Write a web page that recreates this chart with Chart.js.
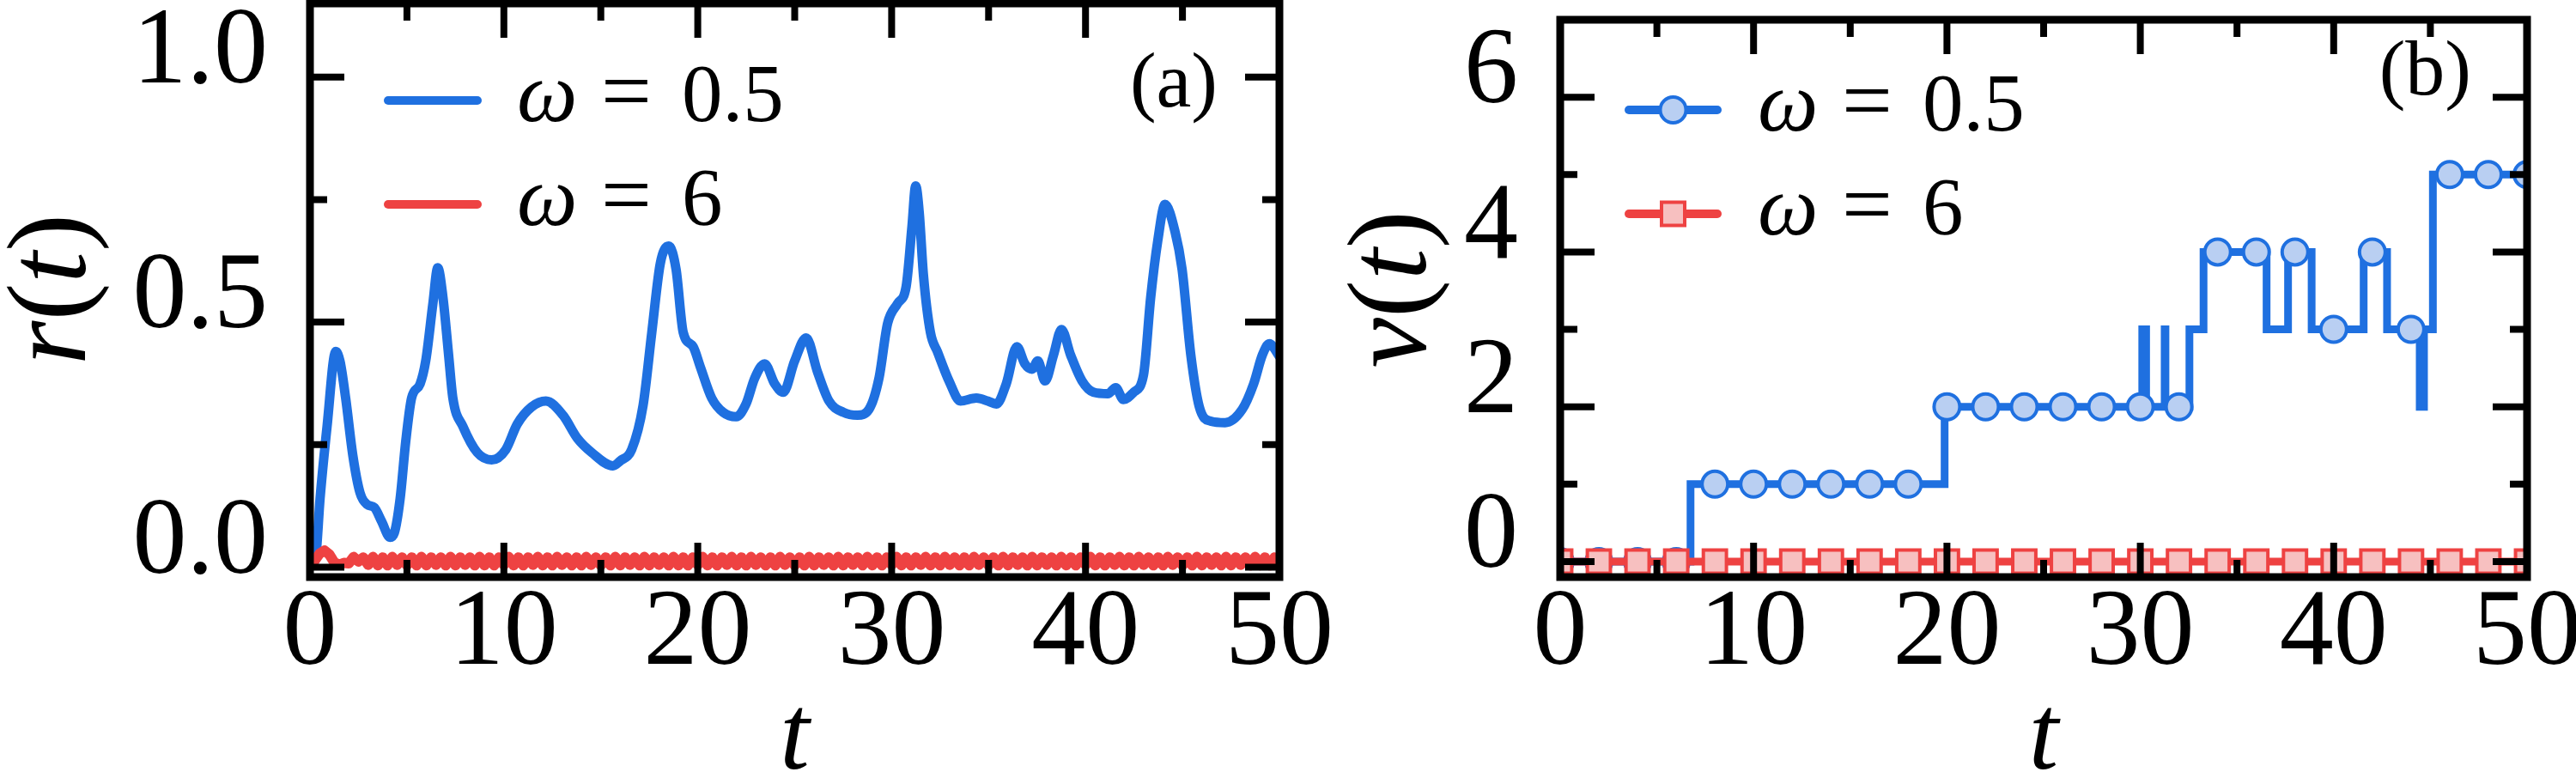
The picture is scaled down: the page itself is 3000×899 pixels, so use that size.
<!DOCTYPE html>
<html>
<head>
<meta charset="utf-8">
<script src="https://cdn.jsdelivr.net/npm/chart.js@4.4.0/dist/chart.umd.min.js"></script>
<style>
  html, body { margin: 0; padding: 0; background: #fff; overflow: hidden; }
  #wrap { position: relative; width: 3000px; height: 899px; }
  canvas { position: absolute; top: 0; }
  #chartA { left: 0; }
  #chartB { left: 1500px; }
</style>
</head>
<body>
<div id="wrap">
  <canvas id="chartA" width="1600" height="899"></canvas>
  <canvas id="chartB" width="1500" height="899"></canvas>
</div>
<script>
// legend values
const omegaLabels = ["0.5", "6"];

// axis ticks
const xTicks = [0, 10, 20, 30, 40, 50];
const xMinor = [5, 15, 25, 35, 45];
const yTicksA = [0, 0.5, 1.0];
const yMinorA = [0.25, 0.75];
const yTicksB = [0, 2, 4, 6];
const yMinorB = [1, 3, 5];

// (a) r(t), omega = 0.5
const tBlueA = [0, 0.30, 0.52, 0.88, 1.33, 1.55, 1.84, 2.21, 2.58, 2.95,
  3.32, 3.69, 4.13, 4.35, 4.65, 4.94, 5.24, 5.68, 5.97, 6.34,
  6.59, 6.86, 7.15, 7.37, 7.89, 8.63, 9.37, 10.10, 10.69, 11.43,
  12.17, 13.05, 13.79, 14.53, 15.63, 16.00, 16.59, 17.18, 17.63, 18.07,
  18.51, 18.88, 19.25, 19.76, 20.13, 20.72, 21.31, 21.98, 22.49, 22.94,
  23.45, 23.97, 24.41, 25.00, 25.59, 26.18, 26.77, 27.51, 28.24, 28.83,
  29.35, 29.79, 30.31, 30.75, 31.05, 31.24, 31.42, 31.64, 32.00, 32.37,
  32.96, 33.55, 34.37, 34.96, 35.40, 35.91, 36.46, 36.87, 37.24, 37.54,
  37.91, 38.35, 38.76, 39.23, 39.82, 40.41, 41.15, 41.56, 41.96, 42.48,
  42.99, 43.36, 43.73, 44.10, 44.62, 44.98, 45.43, 45.87, 46.46, 47.20,
  48.08, 48.67, 49.12, 49.48, 50.00];
const rBlueA = [0.000, 0.023, 0.140, 0.287, 0.440, 0.420, 0.345, 0.228, 0.152, 0.128,
  0.122, 0.094, 0.061, 0.070, 0.140, 0.257, 0.345, 0.374, 0.421, 0.538,
  0.611, 0.550, 0.433, 0.345, 0.287, 0.234, 0.219, 0.240, 0.292, 0.327,
  0.339, 0.310, 0.263, 0.234, 0.207, 0.217, 0.240, 0.330, 0.479, 0.620,
  0.655, 0.608, 0.479, 0.450, 0.409, 0.345, 0.316, 0.307, 0.333, 0.386,
  0.415, 0.374, 0.357, 0.421, 0.468, 0.398, 0.339, 0.316, 0.310, 0.322,
  0.386, 0.497, 0.538, 0.573, 0.696, 0.778, 0.725, 0.596, 0.479, 0.439,
  0.380, 0.339, 0.345, 0.339, 0.333, 0.374, 0.450, 0.415, 0.404, 0.421,
  0.380, 0.433, 0.485, 0.433, 0.380, 0.357, 0.354, 0.366, 0.342, 0.357,
  0.392, 0.550, 0.667, 0.740, 0.684, 0.608, 0.433, 0.327, 0.298, 0.295,
  0.322, 0.374, 0.433, 0.456, 0.430];

// (a) r(t), omega = 6, sampled every 0.25 in t
const redStepA = 0.25;
const rRedA = [
  0.000, 0.014, 0.028, 0.034, 0.026, 0.010, 0.005, 0.009, 0.008, 0.021,
  0.012, 0.020, 0.005, 0.021, 0.004, 0.020, 0.004, 0.021, 0.005, 0.020,
  0.004, 0.020, 0.004, 0.021, 0.004, 0.020, 0.005, 0.020, 0.004, 0.021,
  0.004, 0.020, 0.005, 0.020, 0.004, 0.021, 0.004, 0.020, 0.004, 0.020,
  0.005, 0.021, 0.004, 0.020, 0.004, 0.020, 0.005, 0.021, 0.004, 0.020,
  0.004, 0.021, 0.005, 0.020, 0.004, 0.020, 0.004, 0.021, 0.005, 0.020,
  0.004, 0.020, 0.004, 0.021, 0.004, 0.020, 0.005, 0.020, 0.004, 0.021,
  0.004, 0.020, 0.005, 0.020, 0.004, 0.021, 0.004, 0.020, 0.004, 0.020,
  0.005, 0.021, 0.004, 0.020, 0.004, 0.020, 0.005, 0.021, 0.004, 0.020,
  0.004, 0.021, 0.005, 0.020, 0.004, 0.020, 0.004, 0.021, 0.005, 0.020,
  0.004, 0.020, 0.004, 0.021, 0.004, 0.020, 0.005, 0.020, 0.004, 0.021,
  0.004, 0.020, 0.005, 0.020, 0.004, 0.021, 0.004, 0.020, 0.004, 0.020,
  0.005, 0.021, 0.004, 0.020, 0.004, 0.020, 0.005, 0.021, 0.004, 0.020,
  0.004, 0.021, 0.005, 0.020, 0.004, 0.020, 0.004, 0.021, 0.005, 0.020,
  0.004, 0.020, 0.004, 0.021, 0.004, 0.020, 0.005, 0.020, 0.004, 0.021,
  0.004, 0.020, 0.005, 0.020, 0.004, 0.021, 0.004, 0.020, 0.004, 0.020,
  0.005, 0.021, 0.004, 0.020, 0.004, 0.020, 0.005, 0.021, 0.004, 0.020,
  0.004, 0.021, 0.005, 0.020, 0.004, 0.020, 0.004, 0.021, 0.005, 0.020,
  0.004, 0.020, 0.004, 0.021, 0.004, 0.020, 0.005, 0.020, 0.004, 0.021,
  0.004, 0.020, 0.005, 0.020, 0.004, 0.021, 0.004, 0.020, 0.004, 0.020,
  0.005];

// (b) nu(t), omega = 0.5: jump times and levels
const tStepB = [0, 6.74, 19.88, 30.10, 30.30, 31.26, 31.30, 32.54, 33.27,
  36.53, 37.64, 38.86, 41.55, 42.76, 44.45, 44.67, 45.13, 50];
const nuStepB = [0, 1, 2, 3, 2, 3, 2, 3, 4, 3, 4, 3, 4, 3, 2, 3, 5, 5];

// (b) marker positions
const tMarkB = [0, 2, 4, 6, 8, 10, 12, 14, 16, 18, 20, 22, 24, 26, 28, 30, 32,
  34, 36, 38, 40, 42, 44, 46, 48, 50];
const nuMarkBlueB = [0, 0, 0, 0, 1, 1, 1, 1, 1, 1, 2, 2, 2, 2, 2, 2, 2,
  4, 4, 4, 3, 4, 3, 5, 5, 5];
const nuMarkRedB = [0, 0, 0, 0, 0, 0, 0, 0, 0, 0, 0, 0, 0, 0, 0, 0, 0,
  0, 0, 0, 0, 0, 0, 0, 0, 0];

const FONT = '"Liberation Serif", "Times New Roman", serif';
const BLUE = "#1f70e0";
const BLUE_FILL = "#b9cff2";
const RED = "#ee4242";
const RED_FILL = "#f7c0c0";

function fontOf(size, italic) {
  return (italic ? "italic " : "") + size + "px " + FONT;
}

function drawParts(ctx, parts, x, y, size, center) {
  let w = 0;
  parts.forEach(p => { ctx.font = fontOf(size, p[1]); w += ctx.measureText(p[0]).width; });
  let cx = center ? x - w / 2 : x;
  ctx.textAlign = "left";
  parts.forEach(p => {
    ctx.font = fontOf(size, p[1]);
    ctx.fillText(p[0], cx, y);
    cx += ctx.measureText(p[0]).width;
  });
}

function drawMarker(ctx, kind, x, y, color, fill) {
  ctx.save();
  ctx.lineWidth = 4;
  ctx.strokeStyle = color;
  ctx.fillStyle = fill;
  ctx.beginPath();
  if (kind === "circle") ctx.arc(x, y, 15, 0, Math.PI * 2);
  else ctx.rect(x - 13.5, y - 13.5, 27, 27);
  ctx.fill();
  ctx.stroke();
  ctx.restore();
}

// frame, inward ticks, legend, labels
const decorPlugin = {
  id: "decor",
  afterDraw(chart, args, o) {
    const { ctx, chartArea: a, scales: { x, y } } = chart;
    ctx.save();
    ctx.strokeStyle = "#000";
    ctx.lineCap = "butt";
    ctx.lineWidth = 8;
    const xt = (vals, len) => vals.forEach(v => {
      const px = x.getPixelForValue(v);
      ctx.beginPath();
      ctx.moveTo(px, a.bottom); ctx.lineTo(px, a.bottom - len);
      ctx.moveTo(px, a.top); ctx.lineTo(px, a.top + len);
      ctx.stroke();
    });
    const yt = (vals, len) => vals.forEach(v => {
      const py = y.getPixelForValue(v);
      ctx.beginPath();
      ctx.moveTo(a.left, py); ctx.lineTo(a.left + len, py);
      ctx.moveTo(a.right, py); ctx.lineTo(a.right - len, py);
      ctx.stroke();
    });
    xt(xTicks, 40); xt(xMinor, 20);
    yt(o.yMajor, 40); yt(o.yMinor, 20);
    ctx.lineWidth = 9;
    ctx.strokeRect(a.left, a.top, a.right - a.left, a.bottom - a.top);

    // legend
    o.legend.rows.forEach((ry, i) => {
      const e = o.legend.entries[i];
      ctx.strokeStyle = e.color;
      ctx.lineWidth = 10;
      ctx.lineCap = "round";
      ctx.beginPath();
      ctx.moveTo(o.legend.x0, ry);
      ctx.lineTo(o.legend.x1, ry);
      ctx.stroke();
      if (e.marker) drawMarker(ctx, e.marker, (o.legend.x0 + o.legend.x1) / 2, ry, e.color, e.fill);
      ctx.fillStyle = "#000";
      ctx.textBaseline = "alphabetic";
      const tx = o.legend.textX, by = ry + 24, s = o.legend.size;
      drawParts(ctx, [["ω", true]], tx, by, s * 1.05, false);
      drawParts(ctx, [["=", false]], tx + 98, by, s * 1.1, false);
      drawParts(ctx, [[e.label, false]], tx + 192, by, s, false);
    });

    // panel tag
    ctx.fillStyle = "#000";
    ctx.textAlign = "right";
    ctx.textBaseline = "alphabetic";
    ctx.font = fontOf(92, false);
    ctx.fillText(o.tag.text, o.tag.x, o.tag.y);

    // y axis title
    ctx.translate(o.ytitle.x, o.ytitle.y);
    ctx.rotate(-Math.PI / 2);
    ctx.textBaseline = "middle";
    drawParts(ctx, o.ytitle.parts, 0, 0, 132, true);
    ctx.restore();
  }
};

function axes(yMin, yMax, yTicks, yFmt, yWidth) {
  return {
    x: {
      type: "linear", min: 0, max: 50,
      grid: { display: false, drawTicks: false },
      border: { display: false },
      ticks: { font: { family: FONT, size: 126, lineHeight: 1 }, color: "#000", padding: 5,
        maxRotation: 0, autoSkip: false, callback: v => String(v) },
      afterBuildTicks: s => { s.ticks = xTicks.map(v => ({ value: v })); },
      afterFit: s => { s.height = 227; s.paddingLeft = 0; s.paddingRight = 0; },
      title: { display: true, text: "t", color: "#000",
        font: { family: FONT, size: 124, style: "italic", lineHeight: 0.5 },
        padding: { top: 0, bottom: 6 } }
    },
    y: {
      type: "linear", min: yMin, max: yMax,
      grid: { display: false, drawTicks: false },
      border: { display: false },
      ticks: { font: { family: FONT, size: 126, lineHeight: 1 }, color: "#000", padding: 49,
        labelOffset: -27, autoSkip: false, callback: yFmt },
      afterBuildTicks: s => { s.ticks = yTicks.map(v => ({ value: v })); },
      afterFit: s => { s.width = yWidth; s.paddingTop = 0; s.paddingBottom = 0; }
    }
  };
}

new Chart(document.getElementById("chartA"), {
  type: "line",
  data: {
    datasets: [
      { data: tBlueA.map((t, i) => ({ x: t, y: rBlueA[i] })), borderColor: BLUE, borderWidth: 11,
        pointRadius: 0, cubicInterpolationMode: "monotone", borderJoinStyle: "round", clip: 0, order: 2 },
      { data: rRedA.map((r, i) => ({ x: i * redStepA, y: r })), borderColor: RED, borderWidth: 12,
        pointRadius: 0, borderJoinStyle: "round", clip: 0, order: 1 }
    ]
  },
  options: {
    responsive: false, animation: false, devicePixelRatio: 1,
    layout: { padding: { top: 4, right: 110, left: 0, bottom: 0 } },
    plugins: {
      legend: { display: false }, tooltip: { enabled: false },
      decor: {
        yMajor: yTicksA, yMinor: yMinorA,
        legend: { x0: 452, x1: 556, textX: 602, size: 95, rows: [117, 238],
          entries: [{ color: BLUE, label: omegaLabels[0] }, { color: RED, label: omegaLabels[1] }] },
        tag: { text: "(a)", x: 1418, y: 124 },
        ytitle: { x: 64, y: 337, parts: [["r", true], ["(", false], ["t", true], [")", false]] }
      }
    },
    scales: axes(-0.02, 1.15, yTicksA, v => v.toFixed(1), 361)
  },
  plugins: [decorPlugin]
});

new Chart(document.getElementById("chartB"), {
  type: "line",
  data: {
    datasets: [
      { data: tStepB.map((t, i) => ({ x: t, y: nuStepB[i] })), borderColor: BLUE, borderWidth: 9,
        pointRadius: 0, stepped: "before", borderJoinStyle: "miter", clip: 0, order: 4 },
      { data: tMarkB.map((t, i) => ({ x: t, y: nuMarkBlueB[i] })), showLine: false,
        pointStyle: "circle", pointRadius: 15, pointBorderWidth: 4,
        pointBorderColor: BLUE, pointBackgroundColor: BLUE_FILL, clip: 0, order: 3 },
      { data: tMarkB.map((t, i) => ({ x: t, y: nuMarkRedB[i] })), borderColor: RED, borderWidth: 9,
        pointStyle: "rect", pointRadius: 19, pointBorderWidth: 4,
        pointBorderColor: RED, pointBackgroundColor: RED_FILL, clip: 0, order: 1 }
    ]
  },
  options: {
    responsive: false, animation: false, devicePixelRatio: 1,
    layout: { padding: { top: 4, right: 57, left: 0, bottom: 0 } },
    plugins: {
      legend: { display: false }, tooltip: { enabled: false },
      decor: {
        yMajor: yTicksB, yMinor: yMinorB,
        legend: { x0: 397, x1: 500, textX: 547, size: 95, rows: [128, 249],
          entries: [{ color: BLUE, fill: BLUE_FILL, marker: "circle", label: omegaLabels[0] },
                    { color: RED, fill: RED_FILL, marker: "rect", label: omegaLabels[1] }] },
        tag: { text: "(b)", x: 1378, y: 110 },
        ytitle: { x: 125, y: 337, parts: [["ν", true], ["(", false], ["t", true], [")", false]] }
      }
    },
    scales: axes(-0.2, 7, yTicksB, v => String(v), 317)
  },
  plugins: [decorPlugin]
});
</script>
</body>
</html>
